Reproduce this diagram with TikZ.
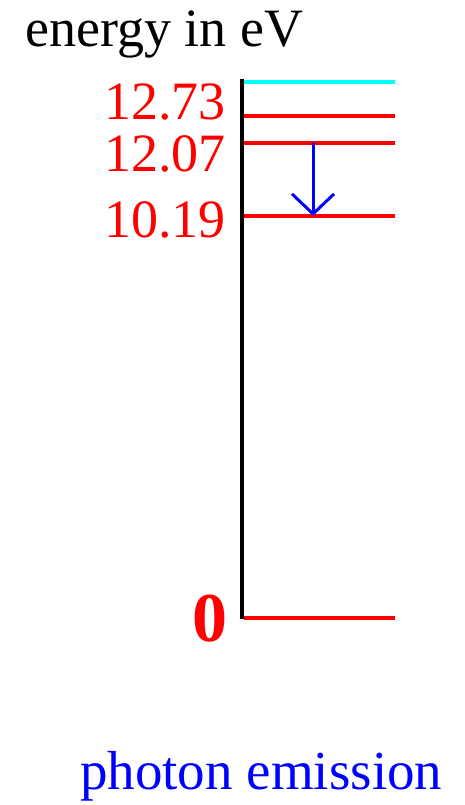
\documentclass[tikz,border=0pt]{standalone}
\usepackage{fontspec}
\setmainfont{Liberation Serif}
\usetikzlibrary{arrows.meta}
\definecolor{levelcyan}{rgb}{0,1,1}

\begin{document}
\begin{tikzpicture}[x=1pt, y=1pt, >={Straight Barb[length=20pt, width=42pt]},
    level/.style={red, line width=3.2pt},
    levellabel/.style={red, anchor=base east, inner sep=0pt, font=\fontsize{54}{60}\selectfont}]

\useasboundingbox (0,0) rectangle (465,805);

% ==== TITLE ====
\node[anchor=base west, inner sep=0pt, font=\fontsize{54}{60}\selectfont] (title) at (25,758) {energy in eV};

% ==== AXIS ====
\coordinate (axtop) at (242,726);
\coordinate (axbot) at (242,186);
\draw[line width=3.2pt] (axtop) -- (axbot);

% ==== LEVELS ====
\draw[levelcyan, line width=3.2pt] (244,723) coordinate (l5a) -- (395,723) coordinate (l5b);
\draw[level] (244,689) coordinate (l4a) -- (395,689) coordinate (l4b);
\draw[level] (244,662) coordinate (l3a) -- (395,662) coordinate (l3b);
\draw[level] (244,589) coordinate (l2a) -- (395,589) coordinate (l2b);
\draw[level] (244,187) coordinate (l1a) -- (395,187) coordinate (l1b);

\node[levellabel] (e4) at (226,685) {12.73};
\node[levellabel] (e3) at (226,633) {12.07};
\node[levellabel] (e2) at (226,567) {10.19};
\node[red, anchor=base east, inner sep=0pt, font=\fontsize{70}{76}\selectfont\bfseries] (e1) at (228,163) {0};

% ==== TRANSITION ====
\coordinate (from) at (313,662);
\coordinate (to) at (313,589);
\draw[->, blue, line width=3pt] (from) -- (to);

\node[blue, anchor=base west, inner sep=0pt, font=\fontsize{55}{60}\selectfont] (caption) at (80,15) {photon emission};

\end{tikzpicture}
\end{document}
